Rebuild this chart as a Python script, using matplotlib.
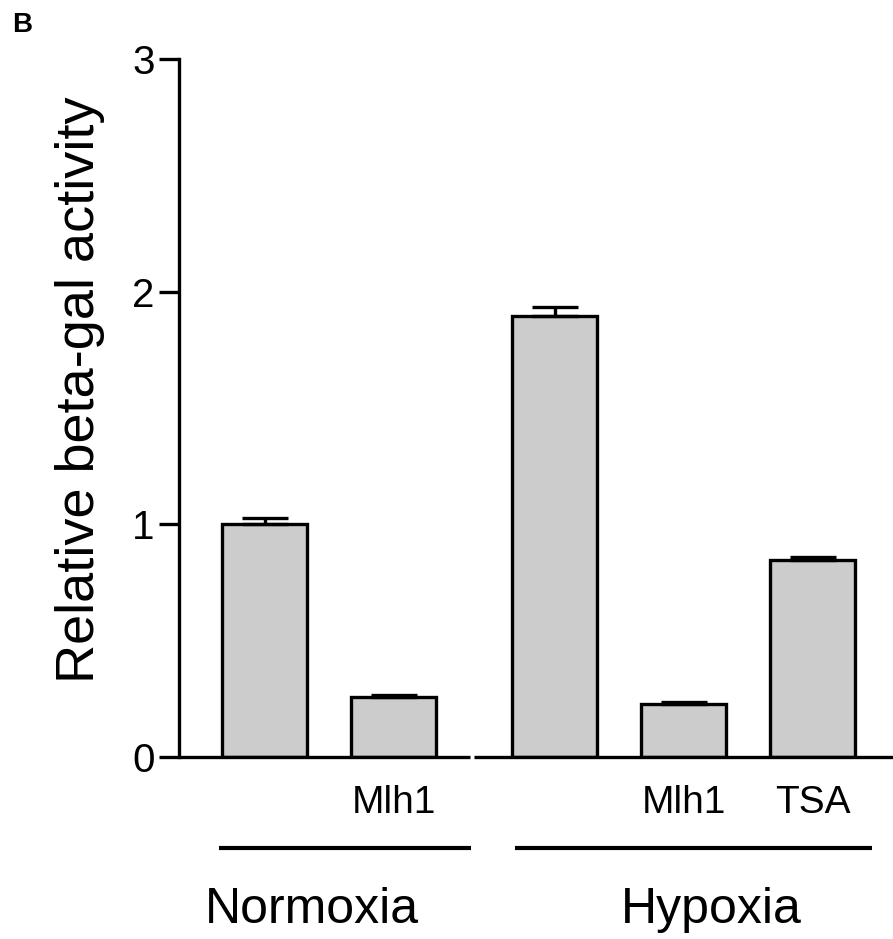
import numpy as np
import matplotlib.pyplot as plt

plt.rcParams['font.family'] = ['Liberation Sans', 'DejaVu Sans']

# --- data ---
values = [1.0, 0.258, 1.895, 0.228, 0.847]
errors = [0.026, 0.009, 0.039, 0.009, 0.012]
tick_labels = ["", "Mlh1", "", "Mlh1", "TSA"]
positions = [0, 1, 2.25, 3.25, 4.25]
groups = ["Normoxia", "Hypoxia"]
group_centers = [0.37, 3.46]
group_spans = [(-0.353, 1.60), (1.942, 4.709)]

lw = 2.4

fig = plt.figure(figsize=(8.93, 9.39), dpi=100)
ax = fig.add_axes([179 / 893, 182 / 939, 714 / 893, 698 / 939])

ax.bar(positions, values, width=0.66, color="#cccccc", edgecolor="black",
       linewidth=lw, zorder=2)
ax.errorbar(positions, values, yerr=[np.zeros(len(errors)), errors], fmt="none",
            ecolor="black", elinewidth=lw, capsize=16.5, capthick=lw, zorder=3)

ax.set_xlim(-0.663, 4.872)
ax.set_ylim(0, 3)
ax.set_yticks([0, 1, 2, 3])
ax.tick_params(axis="y", length=14.4, width=lw, labelsize=29, pad=3)
ax.set_xticks(positions)
ax.set_xticklabels(tick_labels)
ax.tick_params(axis="x", length=0, labelsize=28, pad=20)

for s in ["top", "right", "bottom"]:
    ax.spines[s].set_visible(False)
ax.spines["left"].set_linewidth(lw)

# broken x axis
ax.plot([-0.663, 1.593], [0, 0], color="black", lw=lw, clip_on=False,
        solid_capstyle="butt", zorder=4)
ax.plot([1.624, 4.872], [0, 0], color="black", lw=lw, clip_on=False,
        solid_capstyle="butt", zorder=4)

# group lines and labels
trans = ax.get_xaxis_transform()
for (x0, x1), name, xc in zip(group_spans, groups, group_centers):
    ax.plot([x0, x1], [-0.130, -0.130], color="black", lw=3, transform=trans,
            clip_on=False, solid_capstyle="butt")
    ax.text(xc, -0.238, name, transform=trans, ha="center", va="baseline",
            fontsize=36)

fig.text(80 / 893, 1 - 390 / 939, "Relative beta-gal activity", rotation=90,
         ha="center", va="center", fontsize=39)
fig.text(12 / 893, 1 - 32 / 939, "B", fontweight="bold", fontsize=20,
         ha="left", va="baseline")

fig.savefig("out.png", dpi=100)
